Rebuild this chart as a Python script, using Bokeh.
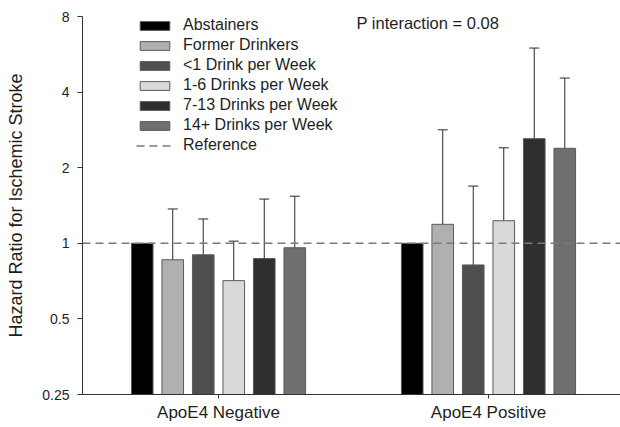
from bokeh.plotting import figure
from bokeh.models import (Range1d, FixedTicker, CustomJSTickFormatter, ColumnDataSource,
                          Whisker, TeeHead, Legend, LegendItem, Label)
from bokeh.embed import file_html
from bokeh.resources import INLINE

# ---- data ----
groups = ["ApoE4 Negative", "ApoE4 Positive"]
categories = ["Abstainers", "Former Drinkers", "<1 Drink per Week",
              "1-6 Drinks per Week", "7-13 Drinks per Week", "14+ Drinks per Week"]
hr_negative = [1.00, 0.86, 0.90, 0.71, 0.87, 0.96]
lo_negative = [None, 0.53, 0.65, 0.49, 0.51, 0.61]
hi_negative = [None, 1.37, 1.25, 1.02, 1.50, 1.54]
hr_positive = [1.00, 1.19, 0.82, 1.23, 2.61, 2.39]
lo_positive = [None, 0.51, 0.40, 0.63, 1.12, 1.25]
hi_positive = [None, 2.83, 1.69, 2.40, 5.99, 4.55]
y_ticks = [0.25, 0.5, 1, 2, 4, 8]
reference_value = 1.0
p_text = "P interaction = 0.08"

colors = ["#000000", "#b0b0b0", "#4f4f4f", "#d9d9d9", "#2f2f2f", "#6f6f6f"]
FONT = "Liberation Sans"
TXT = "#1e1e1e"

hr = [hr_negative, hr_positive]
lo = [lo_negative, lo_positive]
hi = [hi_negative, hi_positive]

n_cat = len(categories)
step = 0.113
bar_w = 0.08
centers = [g + 0.5 for g in range(len(groups))]

x0 = 0.5 - 136 / 270
x1 = x0 + 538 / 270

p = figure(width=620, height=427, output_backend="svg", toolbar_location=None,
           y_axis_type="log", x_range=Range1d(x0, x1),
           y_range=Range1d(y_ticks[0], y_ticks[-1]), min_border_left=82, min_border_right=0,
           min_border_top=16, min_border_bottom=33)
p.outline_line_color = None
p.xgrid.visible = False
p.ygrid.visible = False
p.background_fill_color = "white"
p.border_fill_color = "white"

items = []
for i, cat in enumerate(categories):
    xs = [c + (i - (n_cat - 1) / 2) * step for c in centers]
    tops = [hr[g][i] for g in range(len(groups))]
    src = ColumnDataSource(dict(x=xs, top=tops))
    r = p.vbar(x="x", top="top", bottom=y_ticks[0], width=bar_w, source=src,
               fill_color=colors[i], line_color="#5a5a5a", line_width=1)
    items.append(LegendItem(label=cat, renderers=[r]))
    ex, el, eh = [], [], []
    for g in range(len(groups)):
        if lo[g][i] is not None:
            ex.append(xs[g]); el.append(lo[g][i]); eh.append(hi[g][i])
    if ex:
        esrc = ColumnDataSource(dict(x=ex, lower=el, upper=eh))
        w = Whisker(base="x", lower="lower", upper="upper", source=esrc,
                    line_color="#2a2a2a", line_width=1,
                    upper_head=TeeHead(size=10, line_color="#2a2a2a", line_width=1),
                    lower_head=TeeHead(size=10, line_color="#2a2a2a", line_width=1))
        p.add_layout(w)

ref_r = p.line(x=[x0, x1], y=[reference_value, reference_value], line_color="#7a7a7a",
               line_width=1.6, line_dash="8 5")
items.append(LegendItem(label="Reference", renderers=[ref_r]))

legend = Legend(items=items, location=(54, 240), padding=0, spacing=2,
                glyph_width=37, glyph_height=11, label_height=11, label_standoff=10,
                label_text_font=FONT, label_text_font_size="16px", label_text_color=TXT,
                background_fill_alpha=0, border_line_color=None, margin=0)
p.add_layout(legend, "center")

# axes
p.yaxis.ticker = FixedTicker(ticks=y_ticks)
p.yaxis.formatter = CustomJSTickFormatter(code="return String(tick)")
p.yaxis.minor_tick_line_color = None
p.yaxis.major_tick_out = 5
p.yaxis.major_tick_in = 0
p.yaxis.major_label_standoff = 8
p.yaxis.major_label_text_font = FONT
p.yaxis.major_label_text_font_size = "14px"
p.yaxis.major_label_text_color = TXT
p.yaxis.axis_label = "Hazard Ratio for Ischemic Stroke"
p.yaxis.axis_label_text_font = FONT
p.yaxis.axis_label_text_font_size = "18px"
p.yaxis.axis_label_text_font_style = "normal"
p.yaxis.axis_label_text_color = TXT
p.yaxis.axis_label_standoff = 13
p.yaxis.axis_line_color = "#333333"
p.yaxis.major_tick_line_color = "#333333"

p.xaxis.ticker = FixedTicker(ticks=centers)
p.xaxis.major_label_overrides = {c: g for c, g in zip(centers, groups)}
p.xaxis.minor_tick_line_color = None
p.xaxis.major_tick_out = 4
p.xaxis.major_tick_in = 0
p.xaxis.major_label_standoff = 4
p.xaxis.major_label_text_font = FONT
p.xaxis.major_label_text_font_size = "17px"
p.xaxis.major_label_text_color = TXT
p.xaxis.axis_line_color = "#333333"
p.xaxis.major_tick_line_color = "#333333"

p.add_layout(Label(x=274, y=372, x_units="screen", y_units="screen", text=p_text,
                   text_font=FONT, text_font_size="16.5px", text_color=TXT,
                   text_baseline="middle"))

open("out.html", "w").write(file_html(p, INLINE))
